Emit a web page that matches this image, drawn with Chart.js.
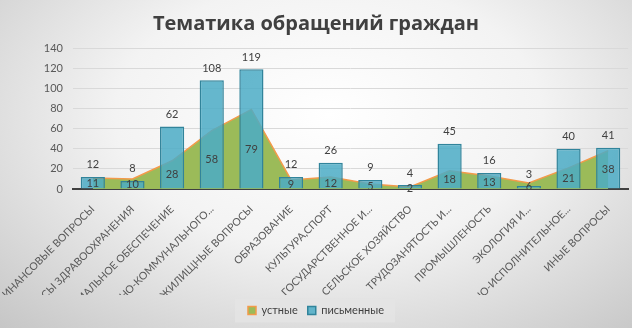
<!DOCTYPE html>
<html lang="ru">
<head>
<meta charset="UTF-8">
<title>Тематика обращений граждан</title>
<script src="https://cdn.jsdelivr.net/npm/chart.js@4.4.1/dist/chart.umd.min.js"></script>
<style>
  body { margin: 0; }
  #wrap {
    width: 632px; height: 328px;
    background: radial-gradient(ellipse 75% 90% at 52% 35%, #ffffff 0%, #f3f3f3 45%, #c6c6c6 100%);
  }
</style>
</head>
<body>
<div id="wrap"><canvas id="chart" width="632" height="328"></canvas></div>
<script>
const categories = [
  "ФИНАНСОВЫЕ ВОПРОСЫ", "ВОПРОСЫ ЗДРАВООХРАНЕНИЯ", "СОЦИАЛЬНОЕ ОБЕСПЕЧЕНИЕ",
  "ЖИЛИЩНО-КОММУНАЛЬНОГО...", "ЖИЛИЩНЫЕ ВОПРОСЫ", "ОБРАЗОВАНИЕ", "КУЛЬТУРА,СПОРТ",
  "ГОСУДАРСТВЕННОЕ И...", "СЕЛЬСКОЕ ХОЗЯЙСТВО", "ТРУДОЗАНЯТОСТЬ И...", "ПРОМЫШЛЕНОСТЬ",
  "ЭКОЛОГИЯ И...", "СУДЕБНО-ИСПОЛНИТЕЛЬНОЕ...", "ИНЫЕ ВОПРОСЫ"
]
const oral = [11, 10, 28, 58, 79, 9, 12, 5, 2, 18, 13, 6, 21, 38]
const written = [12, 8, 62, 108, 119, 12, 26, 9, 4, 45, 16, 3, 40, 41]

const labelFont = "Lato, 'Open Sans', sans-serif"

// value labels: bars above the top, area in the middle of its height
const valueLabels = {
  id: "valueLabels",
  afterDatasetsDraw(chart) {
    const ctx = chart.ctx
    const y = chart.scales.y
    ctx.save()
    ctx.font = "11px " + labelFont
    ctx.fillStyle = "#404040"
    ctx.textAlign = "center"
    ctx.textBaseline = "middle"
    chart.getDatasetMeta(1).data.forEach((bar, i) => {
      ctx.fillText(written[i], bar.x, bar.y - 12)
    })
    chart.getDatasetMeta(0).data.forEach((pt, i) => {
      ctx.fillText(oral[i], pt.x, (pt.y + y.getPixelForValue(0)) / 2)
    })
    ctx.restore()
  }
}

// light box behind the legend
const legendBg = {
  id: "legendBg",
  beforeDraw(chart) {
    const boxes = chart.legend.legendHitBoxes
    if (!boxes || !boxes.length) return
    const first = boxes[0], last = boxes[boxes.length - 1]
    const cy = first.top + first.height / 2
    const ctx = chart.ctx
    ctx.save()
    ctx.fillStyle = "rgba(228,228,228,0.85)"
    ctx.fillRect(first.left - 13, cy - 12, last.left + last.width - first.left + 24, 24)
    ctx.restore()
  }
}

new Chart("chart", {
  data: {
    labels: categories,
    datasets: [{
      type: "line",
      label: "устные",
      data: oral,
      borderColor: "#f39a4a",
      borderWidth: 1.5,
      backgroundColor: "#9bbb59",
      fill: "origin",
      pointRadius: 0,
      tension: 0,
      order: 2
    }, {
      type: "bar",
      label: "письменные",
      data: written,
      backgroundColor: "rgba(75,172,198,0.85)",
      borderColor: "#31849b",
      borderWidth: 1.5,
      barPercentage: 0.61,
      categoryPercentage: 1,
      order: 1
    }]
  },
  options: {
    responsive: false,
    animation: false,
    layout: { padding: { top: 2, left: 4, right: 4, bottom: 2 } },
    plugins: {
      title: {
        display: true,
        text: "Тематика обращений граждан",
        color: "#404040",
        font: { family: "'Open Sans', sans-serif", size: 20, weight: "bold" },
        padding: { top: 10, bottom: 12 }
      },
      legend: {
        position: "bottom",
        labels: {
          boxWidth: 8,
          boxHeight: 8,
          color: "#404040",
          font: { family: labelFont, size: 11 },
          padding: 10,
          sort: (a, b) => a.datasetIndex - b.datasetIndex
        }
      },
      tooltip: { enabled: false }
    },
    scales: {
      x: {
        grid: { display: false },
        border: { color: "#404040", width: 2 },
        ticks: {
          autoSkip: false,
          minRotation: 45,
          maxRotation: 45,
          padding: 6,
          color: "#595959",
          font: { family: labelFont, size: 10.5 }
        },
        afterFit(scale) {
          // labels may run off the left edge, as in the original
          scale.height = 106
          scale.paddingLeft = 0
          scale.paddingRight = 0
        }
      },
      y: {
        min: 0,
        max: 140,
        ticks: {
          stepSize: 20,
          padding: 10,
          color: "#595959",
          font: { family: labelFont, size: 11 }
        },
        grid: { color: "#d9d9d9", drawTicks: false },
        border: { display: false },
        afterFit(scale) { scale.width = 69 }
      }
    }
  },
  plugins: [valueLabels, legendBg]
})
</script>
</body>
</html>
